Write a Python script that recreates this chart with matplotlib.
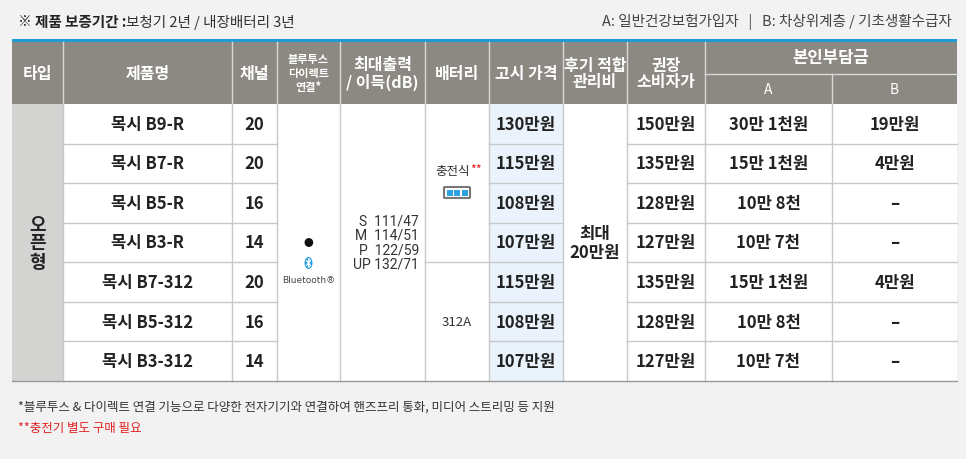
import matplotlib
matplotlib.use("Agg")
import matplotlib.pyplot as plt
from matplotlib.patches import Rectangle, FancyBboxPatch, Ellipse

plt.rcParams['font.family'] = ['Noto Sans CJK KR', 'DejaVu Sans']

products = ["목시 B9-R", "목시 B7-R", "목시 B5-R", "목시 B3-R", "목시 B7-312", "목시 B5-312", "목시 B3-312"]
channels = ["20", "20", "16", "14", "20", "16", "14"]
prices = ["130만원", "115만원", "108만원", "107만원", "115만원", "108만원", "107만원"]
retail = ["150만원", "135만원", "128만원", "127만원", "135만원", "128만원", "127만원"]
pay_a = ["30만 1천원", "15만 1천원", "10만 8천", "10만 7천", "15만 1천원", "10만 8천", "10만 7천"]
pay_b = ["19만원", "4만원", "–", "–", "4만원", "–", "–"]
output_gain = "S  111/47\nM  114/51\nP  122/59\nUP 132/71"

fig = plt.figure(figsize=(9.66, 4.6), dpi=100)
fig.patch.set_facecolor('#f2f2f2')
ax = fig.add_axes([0, 0, 1, 1])
ax.set_xlim(0, 966); ax.set_ylim(460, 0); ax.axis('off')

xs = [12, 63, 232, 277, 340, 425, 489, 563, 627, 705, 832, 957]
y_head, y_mid, y_data = 42, 75, 105
rh = (382 - 105) / 7
ys = [y_data + i * rh for i in range(8)]
HEAD = '#8b8982'; LINE = '#c8c8c8'

def rect(x0, y0, x1, y1, fc, ec='none', lw=0):
    ax.add_patch(Rectangle((x0, y0), x1 - x0, y1 - y0, facecolor=fc, edgecolor=ec, lw=lw))

def txt(x, y, s, size=12, color='#222', weight='normal', **kw):
    ax.text(x, y, s, fontsize=size, color=color, weight=weight, ha='center', va='center', **kw)

# top note
ax.text(18, 22, "※ ", fontsize=10, color='#333', va='center')
ax.text(35, 22, "제품 보증기간 :", fontsize=10.5, color='#222', weight='bold', va='center')
ax.text(126, 22, "보청기 2년 / 내장배터리 3년", fontsize=10.5, color='#333', va='center')
ax.text(952, 22, "A: 일반건강보험가입자   |   B: 차상위계층 / 기초생활수급자", fontsize=10.5, color='#444', va='center', ha='right')

# header
rect(xs[0], 40, xs[-1], 43, '#1e9ad6')
rect(xs[0], 43, xs[-1], y_data, HEAD)
heads = ["타입", "제품명", "채널", None, "최대출력\n/ 이득(dB)", "배터리", "고시 가격", "후기 적합\n관리비", "권장\n소비자가"]
for i, h in enumerate(heads):
    cx = (xs[i] + xs[i + 1]) / 2
    if h is None:
        txt(cx, 74, "블루투스\n다이렉트\n연결*", size=8, color='white', weight='bold', linespacing=1.1)
    else:
        txt(cx, 74, h, size=11.5, color='white', weight='bold', linespacing=1.05)
    if i > 0:
        ax.plot([xs[i], xs[i]], [43, y_data], color='#d8d8d8', lw=1)
ax.plot([xs[9], xs[9]], [43, y_data], color='#d8d8d8', lw=1)
ax.plot([xs[10], xs[10]], [y_mid, y_data], color='#d8d8d8', lw=1)
ax.plot([xs[9], xs[11]], [y_mid, y_mid], color='#d8d8d8', lw=1)
txt((xs[9] + xs[11]) / 2, 58, "본인부담금", size=12, color='white', weight='bold')
txt((xs[9] + xs[10]) / 2, 90, "A", size=10, color='white')
txt((xs[10] + xs[11]) / 2, 90, "B", size=10, color='white')

# body
rect(xs[0], y_data, xs[-1], ys[-1], 'white')
rect(xs[0], y_data, xs[1], ys[-1], '#d3d3d1')
rect(xs[6], y_data, xs[7], ys[-1], '#eaf3fc')
for i in range(1, 7):
    y = ys[i]
    for c in [1, 2, 6, 8, 9, 10]:
        ax.plot([xs[c], xs[c + 1]], [y, y], color=LINE, lw=1)
ax.plot([xs[5], xs[6]], [ys[4], ys[4]], color=LINE, lw=1)
for c in range(1, 11):
    ax.plot([xs[c], xs[c]], [y_data, ys[-1]], color=LINE, lw=1)
ax.plot([xs[0], xs[-1]], [ys[-1], ys[-1]], color='#999', lw=1)

for r in range(7):
    cy = (ys[r] + ys[r + 1]) / 2
    txt((xs[1] + xs[2]) / 2, cy, products[r], size=12, weight='bold')
    txt((xs[2] + xs[3]) / 2, cy, channels[r], size=12, weight='bold')
    txt((xs[6] + xs[7]) / 2, cy, prices[r], size=12, weight='bold')
    txt((xs[8] + xs[9]) / 2, cy, retail[r], size=12, weight='bold')
    txt((xs[9] + xs[10]) / 2, cy, pay_a[r], size=12, weight='bold')
    txt((xs[10] + xs[11]) / 2, cy, pay_b[r], size=12, weight='bold')

ym = (ys[0] + ys[-1]) / 2
txt((xs[0] + xs[1]) / 2, ym, "오\n픈\n형", size=13, weight='bold', linespacing=1.0)
bx = (xs[3] + xs[4]) / 2
txt(bx, 243, "●", size=7, color='#111')
# bluetooth logo drawn as shape
ax.add_patch(Ellipse((bx, 264), 8, 12, fc='#2aa3e0', ec='none'))
ax.plot([bx - 2, bx + 2, bx, bx, bx + 2, bx - 2], [261.5, 266.5, 268.5, 259.5, 261.5, 266.5],
        color='white', lw=0.8)
txt(bx, 281, "Bluetooth®", size=6.5, color='#444', family=['DejaVu Sans'])
ax.text(xs[5] - 6, 243, output_gain, fontsize=10, color='#333', ha='right', va='center',
        linespacing=1.05, family=['Roboto', 'DejaVu Sans'])
cx5 = (xs[5] + xs[6]) / 2
ax.text(cx5 - 4, 172, "충전식", fontsize=9, color='#333', ha='center', va='center')
ax.text(cx5 + 19, 170, "**", fontsize=9, color='#e02020', ha='center', va='center')
ax.add_patch(FancyBboxPatch((cx5 - 12, 189), 24, 9, boxstyle='round,pad=1', fc='white', ec='#777', lw=1.5))
for k in range(3):
    rect(cx5 - 10 + k * 7.3, 190.5, cx5 - 10 + k * 7.3 + 6, 196.5, '#2aa3e0')
txt(cx5, (ys[4] + ys[7]) / 2, "312A", size=9.5, color='#333')
txt((xs[7] + xs[8]) / 2, ym, "최대\n20만원", size=12, weight='bold', linespacing=1.1)

# footnotes
ax.text(18, 407, "*블루투스 & 다이렉트 연결 기능으로 다양한 전자기기와 연결하여 핸즈프리 통화, 미디어 스트리밍 등 지원",
        fontsize=9, color='#333', va='center')
ax.text(18, 429, "**충전기 별도 구매 필요", fontsize=9, color='#e02020', va='center')

fig.savefig("out.png", dpi=100, facecolor=fig.get_facecolor())
